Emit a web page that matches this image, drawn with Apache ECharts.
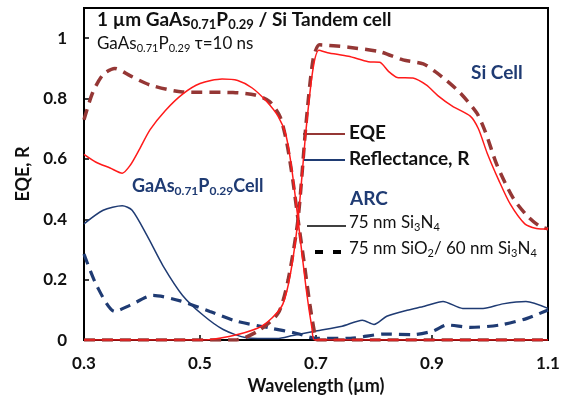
<!DOCTYPE html>
<html>
<head>
<meta charset="utf-8">
<script src="https://cdn.jsdelivr.net/npm/echarts@6/dist/echarts.min.js"></script>
<style>
  html, body { margin: 0; padding: 0; background: #fff; }
  #chart { width: 566px; height: 400px; }
</style>
</head>
<body>
<div id="chart"></div>
<script>
// x: wavelength (um), y: EQE or reflectance
var xTicks = [0.3, 0.5, 0.7, 0.9, 1.1];
var yTicks = [0, 0.2, 0.4, 0.6, 0.8, 1];

// GaAsP top cell EQE, 75 nm Si3N4
var eqeTopSolid = [
    [0.3, 0.615], [0.32, 0.59], [0.345, 0.57], [0.366, 0.553], [0.38, 0.58], [0.395, 0.63],
    [0.414, 0.697], [0.44, 0.76], [0.47, 0.815], [0.5, 0.85], [0.538, 0.865], [0.565, 0.86],
    [0.59, 0.835], [0.615, 0.79], [0.635, 0.74], [0.648, 0.68], [0.658, 0.57], [0.669, 0.4],
    [0.683, 0.17], [0.693, 0.04], [0.698, 0], [0.8, 0], [1.1, 0]
];
// GaAsP top cell EQE, 75 nm SiO2 / 60 nm Si3N4
var eqeTopDash = [
    [0.3, 0.73], [0.315, 0.82], [0.333, 0.88], [0.353, 0.9], [0.38, 0.875], [0.414, 0.845],
    [0.47, 0.822], [0.557, 0.82], [0.595, 0.812], [0.62, 0.79], [0.638, 0.74], [0.65, 0.65],
    [0.66, 0.53], [0.669, 0.4], [0.68, 0.25], [0.69, 0.11], [0.698, 0.02], [0.702, 0],
    [0.8, 0], [1.1, 0]
];
// Si bottom cell EQE, 75 nm Si3N4
var eqeBotSolid = [
    [0.3, 0], [0.5, 0], [0.55, 0.012], [0.6, 0.04], [0.625, 0.075], [0.643, 0.12],
    [0.656, 0.22], [0.669, 0.4], [0.683, 0.7], [0.695, 0.9], [0.705, 0.96], [0.72, 0.952],
    [0.756, 0.94], [0.79, 0.922], [0.81, 0.92], [0.825, 0.89], [0.84, 0.87], [0.867, 0.868],
    [0.89, 0.845], [0.91, 0.81], [0.935, 0.775], [0.966, 0.742], [0.98, 0.7], [0.995, 0.62],
    [1.015, 0.53], [1.035, 0.45], [1.06, 0.385], [1.08, 0.37], [1.1, 0.368]
];
// Si bottom cell EQE, 75 nm SiO2 / 60 nm Si3N4
var eqeBotDash = [
    [0.3, 0], [0.56, 0], [0.6, 0.03], [0.635, 0.09], [0.652, 0.2], [0.669, 0.4], [0.683, 0.72],
    [0.695, 0.93], [0.706, 0.978], [0.73, 0.975], [0.756, 0.97], [0.81, 0.955], [0.85, 0.928],
    [0.885, 0.915], [0.905, 0.89], [0.925, 0.86], [0.948, 0.82], [0.977, 0.753], [0.992, 0.69],
    [1.012, 0.58], [1.04, 0.47], [1.065, 0.41], [1.085, 0.378], [1.1, 0.368]
];
// reflectance, 75 nm Si3N4
var reflSolid = [
    [0.3, 0.385], [0.333, 0.43], [0.366, 0.445], [0.383, 0.43], [0.409, 0.345], [0.436, 0.247],
    [0.47, 0.148], [0.505, 0.083], [0.54, 0.035], [0.58, 0.008], [0.633, 0.005], [0.66, 0.015],
    [0.7, 0.03], [0.745, 0.046], [0.78, 0.066], [0.8, 0.052], [0.822, 0.079], [0.857, 0.099],
    [0.887, 0.112], [0.919, 0.128], [0.953, 0.105], [0.988, 0.105], [1.022, 0.12],
    [1.062, 0.128], [1.1, 0.105]
];
// reflectance, 75 nm SiO2 / 60 nm Si3N4
var reflDash = [
    [0.3, 0.285], [0.322, 0.18], [0.353, 0.095], [0.379, 0.115], [0.419, 0.148], [0.466, 0.13],
    [0.517, 0.095], [0.564, 0.062], [0.621, 0.04], [0.667, 0.022], [0.7, 0.006], [0.759, 0.006],
    [0.816, 0.02], [0.867, 0.018], [0.902, 0.03], [0.926, 0.05], [0.966, 0.042], [1.017, 0.05],
    [1.064, 0.072], [1.1, 0.1]
];

var RED = '#ff1a1a', BROWN = '#953735', NAVY = '#1f3b73';
var FONT = 'Lato';

function line(data, color, width, dash, z) {
    return {
        type: 'line', data: data, showSymbol: false, smooth: 0.25,
        lineStyle: { color: color, width: width, type: dash ? [11, 7] : 'solid' },
        z: z, silent: true
    };
}

function subText(parts, size, color, weight) {
    // parts alternates normal / subscript pieces
    var s = '';
    for (var i = 0; i < parts.length; i++) {
        s += (i % 2 ? '{s|' : '{m|') + parts[i] + '}';
    }
    return {
        text: s,
        rich: {
            m: { fontFamily: FONT, fontSize: size, fontWeight: weight, fill: color, lineHeight: size + 4 },
            s: { fontFamily: FONT, fontSize: Math.round(size * 0.66), fontWeight: weight, fill: color,
                verticalAlign: 'bottom', lineHeight: Math.round(size * 0.66) }
        }
    };
}

var chart = echarts.init(document.getElementById('chart'), null, { renderer: 'canvas' });

chart.setOption({
    animation: false,
    grid: { left: 84, right: 18, top: 8, bottom: 58, show: true, borderColor: '#000', borderWidth: 2 },
    xAxis: {
        type: 'value', min: 0.3, max: 1.1, interval: 0.2,
        name: 'Wavelength (µm)', nameLocation: 'middle', nameGap: 35,
        nameTextStyle: { fontFamily: FONT, fontSize: 18, fontWeight: 'bold', color: '#111' },
        axisLine: { lineStyle: { color: '#000', width: 2 } },
        axisTick: { inside: true, length: 5, lineStyle: { color: '#000', width: 1.5 } },
        axisLabel: { margin: 15, fontFamily: FONT, fontSize: 17, fontWeight: 'bold', color: '#111',
            formatter: function (v) { return v.toFixed(1); } },
        splitLine: { show: false }
    },
    yAxis: {
        type: 'value', min: 0, max: 1.1, interval: 0.2,
        name: 'EQE, R', nameLocation: 'middle', nameGap: 52,
        nameTextStyle: { fontFamily: FONT, fontSize: 18, fontWeight: 'bold', color: '#111' },
        axisLine: { show: true, lineStyle: { color: '#000', width: 2 } },
        axisTick: { show: true, inside: true, length: 5, lineStyle: { color: '#000', width: 1.5 } },
        axisLabel: { margin: 17, fontFamily: FONT, fontSize: 17, fontWeight: 'bold', color: '#111', showMaxLabel: false,
            formatter: function (v) {
                var r = Math.round(v * 10) / 10;
                return yTicks.indexOf(r) >= 0 ? String(r) : '';
            } },
        splitLine: { show: false }
    },
    series: [
        line(reflSolid, NAVY, 1.5, false, 2),
        line(reflDash, NAVY, 3.2, true, 2),
        line(eqeTopDash, BROWN, 3.5, true, 3),
        line(eqeBotDash, BROWN, 3.5, true, 3),
        line(eqeTopSolid, RED, 1.5, false, 4),
        line(eqeBotSolid, RED, 1.5, false, 4)
    ],
    graphic: [
        { type: 'text', left: 97, top: 10, style: subText(['1 µm GaAs', '0.71', 'P', '0.29', ' / Si Tandem cell'], 19, '#111', 'bold') },
        { type: 'text', left: 97, top: 35, style: subText(['GaAs', '0.71', 'P', '0.29', ' τ=10 ns'], 17, '#111', 'normal') },
        { type: 'text', left: 471, top: 63, style: {
            text: 'Si Cell', fontFamily: FONT, fontSize: 19, fontWeight: 'bold', fill: NAVY } },
        { type: 'text', left: 132, top: 177, style: subText(['GaAs', '0.71', 'P', '0.29', 'Cell'], 18, NAVY, 'bold') },
        // legend
        { type: 'line', shape: { x1: 303, y1: 134, x2: 345, y2: 134 }, style: { stroke: BROWN, lineWidth: 2 } },
        { type: 'text', left: 349, top: 123, style: { text: 'EQE', fontFamily: FONT, fontSize: 19, fontWeight: 'bold', fill: '#111' } },
        { type: 'line', shape: { x1: 303, y1: 160, x2: 345, y2: 160 }, style: { stroke: NAVY, lineWidth: 2 } },
        { type: 'text', left: 349, top: 149, style: { text: 'Reflectance, R', fontFamily: FONT, fontSize: 19, fontWeight: 'bold', fill: '#111' } },
        { type: 'text', left: 350, top: 189, style: { text: 'ARC', fontFamily: FONT, fontSize: 19, fontWeight: 'bold', fill: NAVY } },
        { type: 'line', shape: { x1: 307, y1: 226, x2: 346, y2: 226 }, style: { stroke: '#000', lineWidth: 1.5 } },
        { type: 'text', left: 349, top: 214, style: subText(['75 nm Si', '3', 'N', '4'], 17, '#111', 'normal') },
        { type: 'line', shape: { x1: 315, y1: 252, x2: 348, y2: 252 }, style: { stroke: '#000', lineWidth: 4, lineDash: [8, 10] } },
        { type: 'text', left: 349, top: 240, style: subText(['75 nm SiO', '2', '/ 60 nm Si', '3', 'N', '4'], 17, '#111', 'normal') }
    ]
});
</script>
</body>
</html>
